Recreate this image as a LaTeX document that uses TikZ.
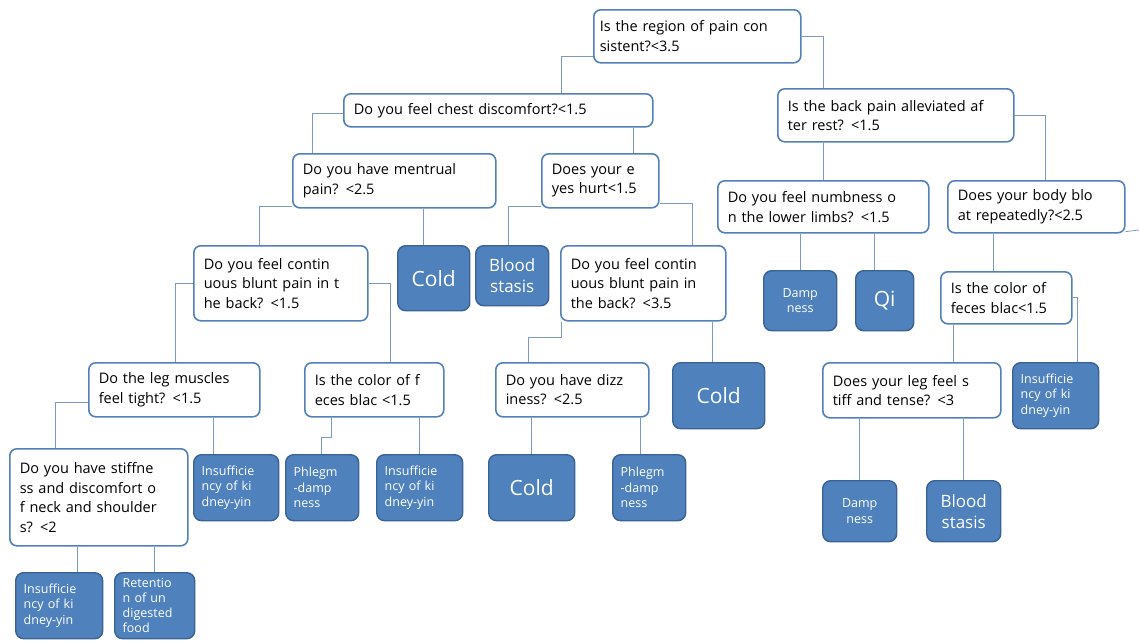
\documentclass[tikz,border=0pt]{standalone}
\usepackage{fontspec}
\setmainfont{Open Sans}
\usepackage{tikz}
\usetikzlibrary{positioning}
\definecolor{qline}{HTML}{5380B8}
\definecolor{leaffill}{HTML}{4F81BD}
\definecolor{leafline}{HTML}{3A6294}
\definecolor{linkc}{HTML}{7C99C2}

\begin{document}
\begin{tikzpicture}[x=1pt,y=-1pt]
\tikzset{qbox/.style={draw=qline,line width=1.6pt,fill=white,rounded corners=7pt,anchor=north west,align=left,inner xsep=10pt,inner ysep=2pt,font=\fontsize{14.5}{19.5}\selectfont}}
\tikzset{leaf/.style={draw=leafline,line width=1.4pt,fill=leaffill,text=white,rounded corners=8pt,anchor=north west,inner xsep=8pt,inner ysep=1pt,font=\fontsize{12.5}{15.5}\selectfont}}
\tikzset{big/.style={align=center,font=\fontsize{21}{24}\selectfont}}
\tikzset{mid/.style={align=center,font=\fontsize{17}{21}\selectfont}}
\tikzset{link/.style={draw=linkc,line width=0.8pt}}
\useasboundingbox (0,0) rectangle (1139,641);
\node[qbox,text width=195pt,minimum height=53pt,inner xsep=6pt] (root) at (593,9) {Is the region of pain con\\sistent?<3.5};
\node[qbox,text width=289pt,minimum height=33pt] (chest) at (343,93) {Do you feel chest discomfort?<1.5};
\node[qbox,text width=216pt,minimum height=53pt] (back) at (777,88) {Is the back pain alleviated af\\ter rest? <1.5};
\node[qbox,text width=183pt,minimum height=54pt] (mentrual) at (292,153) {Do you have mentrual\\pain? <2.5};
\node[qbox,text width=97pt,minimum height=54pt] (eyes) at (541,153) {Does your e\\yes hurt<1.5};
\node[qbox,text width=191pt,minimum height=52pt] (numb) at (717,180) {Do you feel numbness o\\n the lower limbs? <1.5};
\node[qbox,text width=157pt,minimum height=52pt] (bloat) at (947,180) {Does your body blo\\at repeatedly?<2.5};
\node[qbox,text width=154pt,minimum height=75pt] (blunt1) at (193,245) {Do you feel contin\\uous blunt pain in t\\he back? <1.5};
\node[qbox,text width=145pt,minimum height=75pt] (blunt2) at (560,245) {Do you feel contin\\uous blunt pain in\\the back? <3.5};
\node[qbox,text width=111pt,minimum height=52pt] (fecesR) at (940,271) {Is the color of\\feces blac<1.5};
\node[qbox,text width=151pt,minimum height=54pt] (legm) at (88,362) {Do the leg muscles\\feel tight? <1.5};
\node[qbox,text width=119pt,minimum height=54pt] (fecesL) at (304,362) {Is the color of f\\eces blac <1.5};
\node[qbox,text width=133pt,minimum height=54pt] (dizzy) at (495,362) {Do you have dizz\\iness? <2.5};
\node[qbox,text width=158pt,minimum height=55pt] (legs) at (822,362) {Does your leg feel s\\tiff and tense? <3};
\node[qbox,text width=158pt,minimum height=97pt] (stiff) at (9,448) {Do you have stiffne\\ss and discomfort o\\f neck and shoulder\\s? <2};
\node[leaf,big,text width=56pt,minimum height=65pt] (cold1) at (397,245) {Cold};
\node[leaf,mid,text width=57pt,minimum height=60pt] (blood1) at (475,245) {Blood\\stasis};
\node[leaf,align=center,text width=57pt,minimum height=60pt] (damp1) at (763,270) {Damp\\ness};
\node[leaf,big,text width=42pt,minimum height=60pt] (qi) at (855,270) {Qi};
\node[leaf,big,text width=76pt,minimum height=66pt] (cold2) at (672,362) {Cold};
\node[leaf,align=left,text width=70pt,minimum height=66pt] (insR) at (1012,362) {Insufficie\\ncy of ki\\dney-yin};
\node[leaf,align=left,text width=69pt,minimum height=66pt] (ins1) at (193,454) {Insufficie\\ncy of ki\\dney-yin};
\node[leaf,align=left,text width=57pt,minimum height=66pt] (phl1) at (285,454) {Phlegm\\-damp\\ness};
\node[leaf,align=left,text width=70pt,minimum height=66pt] (ins2) at (376,454) {Insufficie\\ncy of ki\\dney-yin};
\node[leaf,big,text width=70pt,minimum height=66pt] (cold3) at (488,454) {Cold};
\node[leaf,align=left,text width=57pt,minimum height=66pt] (phl2) at (612,454) {Phlegm\\-damp\\ness};
\node[leaf,align=center,text width=58pt,minimum height=61pt] (damp2) at (822,480) {Damp\\ness};
\node[leaf,mid,text width=58pt,minimum height=61pt] (blood2) at (926,480) {Blood\\stasis};
\node[leaf,align=left,text width=71pt,minimum height=66pt] (ins3) at (15,572) {Insufficie\\ncy of ki\\dney-yin};
\node[leaf,align=left,text width=64pt,minimum height=66pt,font=\fontsize{12.5}{15}\selectfont] (ret) at (114,572) {Retentio\\n of un\\digested\\food};
\coordinate (edgeR) at (1139,230);
\draw[link] ([yshift=-20pt]root.west) -| ([xshift=218pt]chest.north west);
\draw[link] (root.east) -| ([xshift=46pt]back.north west);
\draw[link] ([yshift=-3pt]chest.west) -| ([xshift=20pt]mentrual.north west);
\draw[link] ([xshift=-20pt]chest.south east) -- ([xshift=-20pt]chest.south east |- eyes.north);
\draw[link] ([yshift=2pt]mentrual.south west) -| ([xshift=66pt]blunt1.north west);
\draw[link] ([xshift=-10pt]cold1.north) -- ([xshift=-10pt]cold1.north |- mentrual.south);
\draw[link] ([yshift=2pt]eyes.south west) -| ([xshift=-4pt]blood1.north);
\draw[link] ([yshift=5pt]eyes.south east) -| ([xshift=132pt]blunt2.north west);
\draw[link] (numb.north |- back.south) -- (numb.north);
\draw[link] (back.east) -| ([xshift=98pt]bloat.north west);
\draw[link] (blunt1.west) -| ([xshift=87pt]legm.north west);
\draw[link] (blunt1.east) -| ([xshift=86pt]fecesL.north west);
\draw[link] (damp1.north |- numb.south) -- (damp1.north);
\draw[link] ([xshift=-10pt]qi.north) -- ([xshift=-10pt]qi.north |- numb.south);
\draw[link] ([xshift=53pt]fecesR.north west) -- ([xshift=53pt]fecesR.north west |- bloat.south);
\draw[link] ([yshift=2pt]bloat.south east) -- (edgeR);
\draw[link] ([xshift=1pt]blunt2.south west) -- ++(0,16) -| ([xshift=33pt]dizzy.north west);
\draw[link] ([xshift=-6pt]cold2.north) -- ([xshift=-6pt]cold2.north |- blunt2.south);
\draw[link] ([xshift=131pt]legs.north west) -- ([xshift=131pt]legs.north west |- fecesR.south);
\draw[link] (fecesR.east) -| ([xshift=22pt]insR.north);
\draw[link] ([yshift=-13pt]legm.west) -| ([xshift=46pt]stiff.north west);
\draw[link] ([xshift=-23pt]ins1.north) -- ([xshift=-23pt]ins1.north |- legm.south);
\draw[link] ([xshift=27pt]fecesL.south west) -- ++(0,20) -| ([xshift=36pt]phl1.north west);
\draw[link] (ins2.north |- fecesL.south) -- (ins2.north);
\draw[link] (cold3.north |- dizzy.south) -- (cold3.north);
\draw[link] ([xshift=-9pt]phl2.north) -- ([xshift=-9pt]phl2.north |- dizzy.south);
\draw[link] (damp2.north |- legs.south) -- (damp2.north);
\draw[link] (blood2.north |- legs.south) -- (blood2.north);
\draw[link] ([xshift=18pt]ins3.north) -- ([xshift=18pt]ins3.north |- stiff.south);
\draw[link] (ret.north |- stiff.south) -- (ret.north);
\end{tikzpicture}
\end{document}
